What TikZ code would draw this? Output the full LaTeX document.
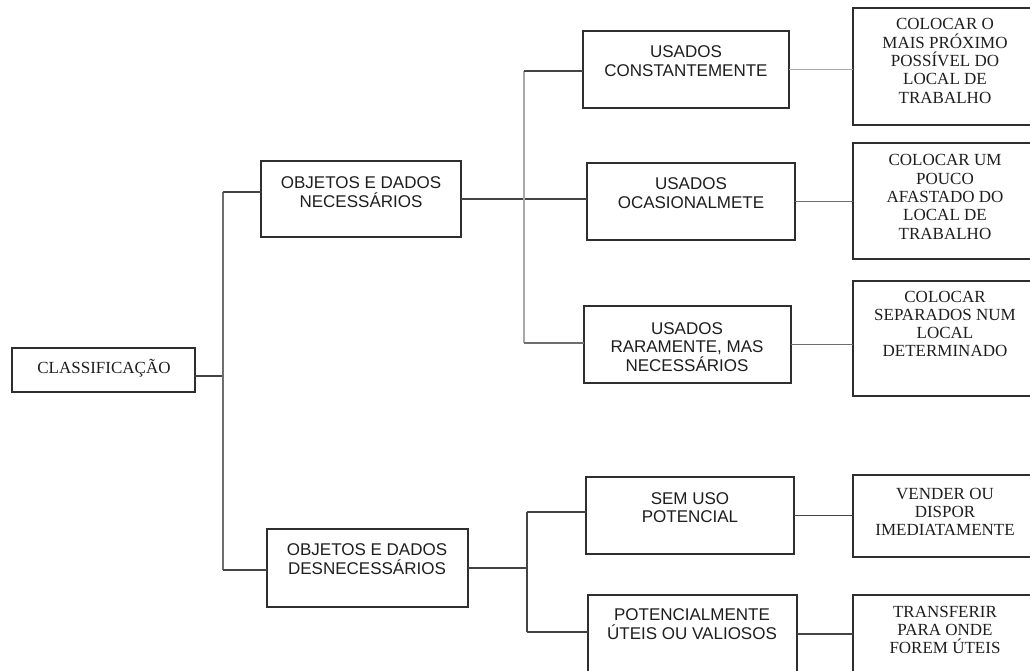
\documentclass[tikz,border=0pt]{standalone}
\usepackage{fontspec}
\setmainfont{Liberation Serif}
\setsansfont{Liberation Sans}
\definecolor{boxc}{HTML}{2E2E2E}
\definecolor{linec}{HTML}{444444}
\definecolor{midc}{HTML}{6E6E6E}
\definecolor{lightc}{HTML}{A8A8A8}
\definecolor{txtc}{HTML}{1E1E1E}
\begin{document}
\begin{tikzpicture}[x=1pt,y=-1pt,
  box/.style={draw=boxc, line width=1.6pt, inner sep=0pt, outer sep=0pt},
  conn/.style={draw=linec, line width=1.6pt},
  midline/.style={draw=midc, line width=1.6pt},
  faint/.style={draw=lightc, line width=1.6pt},
  sanslbl/.style={font=\sffamily\fontsize{17}{18.7}\selectfont, align=center, inner sep=0pt, text=txtc},
  seriflbl/.style={font=\rmfamily\fontsize{17}{18.3}\selectfont, align=center, inner sep=0pt, text=txtc}]
\useasboundingbox (0,0) rectangle (1030,671);
\fill[white] (0,0) rectangle (1030,671);
\clip (0,0) rectangle (1030,671);

% ---- boxes ----
\node[box, minimum width=183pt, minimum height=44pt] (cls) at (103.5,370) {};
\node[box, minimum width=200pt, minimum height=76pt] (nec) at (361,199) {};
\node[box, minimum width=201pt, minimum height=78pt] (des) at (367.5,568) {};

\node[box, minimum width=206pt, minimum height=77pt] (u1) at (686,69.5) {};
\node[box, minimum width=208pt, minimum height=77pt] (u2) at (691,201.5) {};
\node[box, minimum width=207pt, minimum height=77pt] (u3) at (687.5,344.5) {};
\node[box, minimum width=208pt, minimum height=77pt] (s1) at (690,515.5) {};
\node[box, minimum width=209pt, minimum height=78pt] (s2) at (692.5,634) {};

\node[box, minimum width=184pt, minimum height=117pt] (r1) at (945,66.5) {};
\node[box, minimum width=184pt, minimum height=116pt] (r2) at (945,201) {};
\node[box, minimum width=184pt, minimum height=115pt] (r3) at (945,338.5) {};
\node[box, minimum width=184pt, minimum height=82pt] (r4) at (945,516) {};
\node[box, minimum width=184pt, minimum height=105pt] (r5) at (945,647.5) {};

% ---- labels ----
\node[seriflbl, anchor=base] (cls-t) at (104,373) {CLASSIFICAÇÃO};
\node[sanslbl] (nec-t) at (361,192) {OBJETOS E DADOS\\NECESSÁRIOS};
\node[sanslbl] (des-t) at (367,559) {OBJETOS E DADOS\\DESNECESSÁRIOS};

\node[sanslbl] (u1-t) at (686,61.5) {USADOS\\CONSTANTEMENTE};
\node[sanslbl] (u2-t) at (691,193) {USADOS\\OCASIONALMETE};
\node[sanslbl] (u3-t) at (687,347) {USADOS\\RARAMENTE, MAS\\NECESSÁRIOS};
\node[sanslbl] (s1-t) at (690,507.5) {SEM USO\\POTENCIAL};
\node[sanslbl] (s2-t) at (692,624) {POTENCIALMENTE\\ÚTEIS OU VALIOSOS};

\node[seriflbl] (r1-t) at (945,61) {COLOCAR O\\MAIS PRÓXIMO\\POSSÍVEL DO\\LOCAL DE\\TRABALHO};
\node[seriflbl] (r2-t) at (945,197) {COLOCAR UM\\POUCO\\AFASTADO DO\\LOCAL DE\\TRABALHO};
\node[seriflbl] (r3-t) at (945,324) {COLOCAR\\SEPARADOS NUM\\LOCAL\\DETERMINADO};
\node[seriflbl] (r4-t) at (945,512) {VENDER OU\\DISPOR\\IMEDIATAMENTE};
\node[seriflbl] (r5-t) at (945,630) {TRANSFERIR\\PARA ONDE\\FOREM ÚTEIS};

% ---- junction points of the tree ----
\coordinate (jc) at (223,376);
\coordinate (jt) at (223,192);
\coordinate (jb) at (223,570);
\coordinate (ka) at (524,71);
\coordinate (kb) at (524,343);
\coordinate (ma) at (527,512);
\coordinate (mb) at (527,632);

% ---- first level ----
\draw[conn] (cls.east |- jc) -- (jc);
\draw[midline] (jt) -- (jb);
\draw[conn] (jt) -- (nec.west |- jt);
\draw[conn] (jb) -- (des.west |- jb);

% ---- necessary objects ----
\draw[conn] (nec.east) -- (nec.east -| u2.west);
\draw[faint] (ka) -- (kb);
\draw[conn] (ka) -- (u1.west |- ka);
\draw[midline] (kb) -- (u3.west |- kb);
\draw[faint] (u1.east) -- (u1.east -| r1.west);
\draw[midline] (u2.east) -- (u2.east -| r2.west);
\draw[midline] (u3.east) -- (u3.east -| r3.west);

% ---- unnecessary objects ----
\draw[conn] (des.east) -- (des.east -| ma);
\draw[conn] (ma) -- (mb);
\draw[conn] (ma) -- (s1.west |- ma);
\draw[conn] (mb) -- (s2.west |- mb);
\draw[conn] (s1.east) -- (s1.east -| r4.west);
\draw[conn] (s2.east) -- (s2.east -| r5.west);
\end{tikzpicture}
\end{document}
